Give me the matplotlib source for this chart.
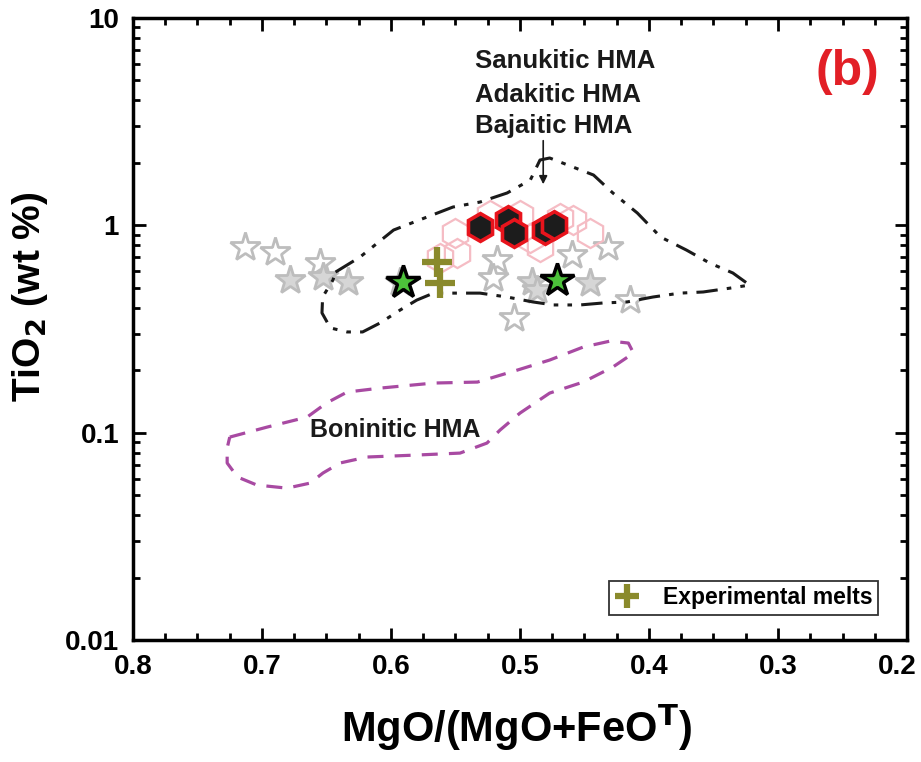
import numpy as np
import matplotlib
matplotlib.use("Agg")
import matplotlib.pyplot as plt
import matplotlib.transforms as mtransforms
from matplotlib import font_manager
from matplotlib.ticker import MultipleLocator, FixedLocator, LogLocator, NullFormatter, FuncFormatter

plt.rcParams['font.family'] = ['Liberation Sans', 'DejaVu Sans']
plt.rcParams['font.weight'] = 'bold'

# axis texts in the original look like a narrow bold face
font_names = {f.name for f in font_manager.fontManager.ttflist}
if 'Liberation Sans Narrow' in font_names:
    axis_font = ['Liberation Sans Narrow', 'Liberation Sans']
    tick_size, xlab_size, ylab_size = 24, 37, 34
else:
    axis_font = ['Liberation Sans', 'DejaVu Sans']
    tick_size, xlab_size, ylab_size = 20, 30, 28

# -----------------------------
# data
# -----------------------------
# grey stars (hollow)
star_x = [0.713, 0.690, 0.655, 0.518, 0.521, 0.460, 0.432, 0.415, 0.505, 0.593]
star_y = [0.785, 0.740, 0.658, 0.680, 0.557, 0.719, 0.785, 0.436, 0.357, 0.533]
# grey stars that look filled (overlapping ones)
star2_x = [0.678, 0.653, 0.633, 0.491, 0.487, 0.446]
star2_y = [0.545, 0.561, 0.533, 0.533, 0.488, 0.527]

# pale pink hexagons
pink_x = [0.550, 0.549, 0.562, 0.500, 0.492, 0.4845, 0.459, 0.446, 0.523, 0.469]
pink_y = [0.918, 0.735, 0.695, 1.121, 0.869, 0.786, 1.061, 0.918, 1.121, 1.084]

# black hexagons with red edge
hex_x = [0.531, 0.509, 0.505, 0.481, 0.474]
hex_y = [0.981, 1.061, 0.918, 0.949, 1.003]

# green stars
green_x = [0.591, 0.471]
green_y = [0.533, 0.545]

# experimental melts
melt_x = [0.564, 0.562]
melt_y = [0.665, 0.527]

# Sanukitic / Adakitic / Bajaitic HMA field
san_x = [0.643, 0.624, 0.598, 0.578, 0.552, 0.531, 0.510, 0.492, 0.4845, 0.477,
         0.467, 0.443, 0.428, 0.409, 0.391, 0.371, 0.353, 0.335, 0.322, 0.337,
         0.358, 0.376, 0.397, 0.417, 0.436, 0.4535, 0.474, 0.490, 0.510, 0.531,
         0.552, 0.567, 0.580, 0.593, 0.6085, 0.622, 0.634, 0.647, 0.6535, 0.653,
         0.645, 0.643]
san_y = [0.595, 0.703, 0.949, 1.061, 1.225, 1.295, 1.432, 1.654, 2.065, 2.112,
         1.998, 1.748, 1.432, 1.146, 0.878, 0.760, 0.658, 0.589, 0.515, 0.498,
         0.477, 0.471, 0.451, 0.427, 0.422, 0.413, 0.413, 0.427, 0.451, 0.471,
         0.471, 0.471, 0.436, 0.390, 0.338, 0.306, 0.306, 0.320, 0.378, 0.451,
         0.545, 0.595]

# Boninitic HMA field
bon_x = [0.725, 0.696, 0.665, 0.650, 0.634, 0.6085, 0.567, 0.533, 0.502, 0.477,
         0.451, 0.430, 0.416, 0.412, 0.428, 0.451, 0.477, 0.500, 0.5155, 0.5256,
         0.5465, 0.580, 0.6186, 0.6395, 0.6527, 0.6628, 0.6806, 0.704, 0.719, 0.727,
         0.727, 0.725]
bon_y = [0.0952, 0.1064, 0.1189, 0.139, 0.157, 0.164, 0.1735, 0.1754, 0.2004, 0.224,
         0.2588, 0.2766, 0.2705, 0.242, 0.2073, 0.1754, 0.1552, 0.1243, 0.1029, 0.0891,
         0.0797, 0.078, 0.0763, 0.0714, 0.0639, 0.0571, 0.054, 0.0559, 0.0611, 0.0714,
         0.0843, 0.0952]

x_ticks = [0.8, 0.7, 0.6, 0.5, 0.4, 0.3, 0.2]
y_ticks = [0.01, 0.1, 1, 10]

# -----------------------------
# plot
# -----------------------------
fig = plt.figure(figsize=(9.21, 7.62), dpi=100)
ax = fig.add_axes([0.1444, 0.1601, 0.8404, 0.8163])

ax.plot(star_x, star_y, ls='none', marker='*', ms=22, mfc='white', mec='#bdbdbd', mew=2.0, zorder=2)
ax.plot(star2_x, star2_y, ls='none', marker='*', ms=22, mfc='#d6d6d6', mec='#bdbdbd', mew=2.0, zorder=2)
ax.plot(pink_x, pink_y, ls='none', marker='h', ms=21, mfc='none', mec='#f5bcc4', mew=1.6, zorder=3)
ax.plot(hex_x, hex_y, ls='none', marker='h', ms=20, mfc='#1c1c1c', mec='#e8141c', mew=2.6, zorder=4)

ax.plot(san_x, san_y, color='#1a1a1a', lw=2.2, dashes=[7, 3, 1.5, 3, 1.5, 3], zorder=5)
ax.plot(bon_x, bon_y, color='#a84aa2', lw=2.3, dashes=[5, 3.5], zorder=5)

ax.plot(melt_x, melt_y, ls='none', marker='+', ms=22, mec='#8a8a2c', mew=4.5, zorder=6,
        label='Experimental melts')
ax.plot(green_x, green_y, ls='none', marker='*', ms=25, mfc='#4cc23a', mec='black', mew=2.5, zorder=7)

# field labels
ax.text(0.535, 5.74, 'Sanukitic HMA', fontsize=18.5, fontweight='bold', color='#1a1a1a', va='baseline')
ax.text(0.535, 3.94, 'Adakitic HMA', fontsize=18.5, fontweight='bold', color='#1a1a1a', va='baseline')
ax.text(0.535, 2.79, 'Bajaitic HMA', fontsize=18.5, fontweight='bold', color='#1a1a1a', va='baseline')
ax.annotate('', xy=(0.482, 1.53), xytext=(0.482, 2.64),
            arrowprops=dict(arrowstyle='-|>', color='#1a1a1a', lw=1.2, mutation_scale=12))
ax.text(0.663, 0.0952, 'Boninitic HMA', fontsize=18, fontweight='bold', color='#1a1a1a', va='baseline')
ax.text(0.2465, 5.49, '(b)', fontsize=36, fontweight='bold', color='#e21f26', ha='center', va='center')

# axes
ax.set_yscale('log')
ax.set_xlim(0.8, 0.2)
ax.set_ylim(0.01, 10)
ax.xaxis.set_major_locator(FixedLocator(x_ticks))
ax.xaxis.set_minor_locator(MultipleLocator(0.025))
ax.xaxis.set_major_formatter(FuncFormatter(lambda v, p: '%.1f' % v))
ax.yaxis.set_major_locator(FixedLocator(y_ticks))
ax.yaxis.set_minor_locator(LogLocator(base=10, subs=np.arange(2, 10)))
ax.yaxis.set_minor_formatter(NullFormatter())
ax.yaxis.set_major_formatter(FuncFormatter(lambda v, p: '%g' % v))

ax.tick_params(which='both', direction='in', top=True, right=True, width=2, labelsize=tick_size)
ax.tick_params(axis='x', pad=10)
ax.tick_params(axis='y', pad=10)
ax.tick_params(which='major', length=9)
ax.tick_params(which='minor', length=5)
for lab in ax.get_xticklabels() + ax.get_yticklabels():
    lab.set_fontweight('bold')
    lab.set_family(axis_font)
for s in ax.spines.values():
    s.set_linewidth(2.5)

# keep the last x label (0.2) inside the picture
last = ax.xaxis.get_major_ticks()[-1].label1
last.set_transform(last.get_transform() + mtransforms.ScaledTranslation(-7 / 72, 0, fig.dpi_scale_trans))

ax.set_xlabel('MgO/(MgO+FeO$^\\mathbf{T}$)', fontsize=xlab_size, fontweight='bold', family=axis_font)
ax.set_ylabel('TiO$_\\mathbf{2}$ (wt %)', fontsize=ylab_size, fontweight='bold', family=axis_font)
ax.xaxis.set_label_coords(0.495, -0.10)
ax.yaxis.set_label_coords(-0.133, 0.551)
ax.yaxis.label.set_va('center')

leg = ax.legend(loc='lower right', bbox_to_anchor=(0.9625, 0.040), borderaxespad=0,
                fancybox=False, edgecolor='black', prop={'size': 16.5, 'weight': 'bold'},
                handlelength=1.1, handletextpad=1.0, borderpad=0.25, markerscale=0.8)
leg.get_frame().set_linewidth(1.3)

plt.savefig('out.png', dpi=100)
plt.close()
